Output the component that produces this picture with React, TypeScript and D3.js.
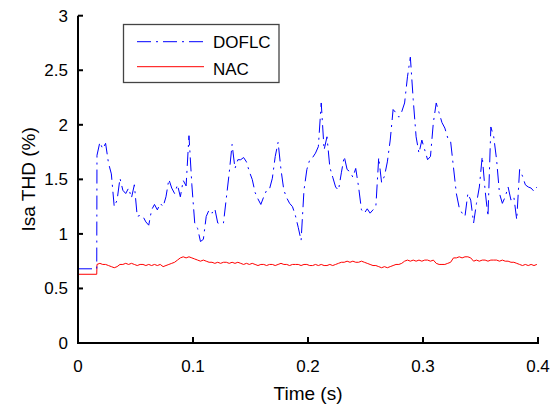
import React from "react";
import * as d3 from "d3";

const xTickValues = [0, 0.1, 0.2, 0.3, 0.4];
const xTickLabels = ["0", "0.1", "0.2", "0.3", "0.4"];
const yTickValues = [0, 0.5, 1, 1.5, 2, 2.5, 3];
const yTickLabels = ["0", "0.5", "1", "1.5", "2", "2.5", "3"];

const seriesNames = ["DOFLC", "NAC"];

// initial steady segment before the switch-over
const startTimes = [0, 0.0163];
const doflcStart = [0.68, 0.68];
const nacStart = [0.63, 0.63];

// sampled segment: starts at T0 with constant sample step
const T0 = 0.0165;
const STEP = 0.0025;

const doflcValues = [
  1.72, 1.84, 1.78, 1.83, 1.65, 1.55, 1.25, 1.31, 1.51, 1.40,
  1.37, 1.42, 1.33, 1.45, 1.16, 1.17, 1.16, 1.11, 1.08, 1.22,
  1.27, 1.22, 1.28, 1.25, 1.34, 1.50, 1.42, 1.37, 1.45, 1.34,
  1.49, 1.44, 1.90, 1.45, 1.10, 1.05, 0.93, 0.95, 1.16, 1.22,
  1.19, 1.23, 1.10, 1.09, 1.10, 1.33, 1.56, 1.82, 1.60, 1.68,
  1.68, 1.70, 1.66, 1.57, 1.50, 1.38, 1.32, 1.27, 1.34, 1.40,
  1.41, 1.51, 1.71, 1.84, 1.59, 1.40, 1.33, 1.28, 1.25, 1.17,
  1.06, 0.94, 1.40, 1.59, 1.68, 1.70, 1.74, 1.80, 2.20, 1.77,
  1.89, 1.61, 1.52, 1.43, 1.40, 1.56, 1.71, 1.59, 1.57, 1.52,
  1.60, 1.43, 1.22, 1.19, 1.23, 1.19, 1.22, 1.25, 1.70, 1.47,
  1.53, 1.66, 1.86, 2.14, 2.11, 2.07, 2.12, 2.20, 2.44, 2.62,
  2.23, 1.89, 1.74, 1.86, 1.77, 1.68, 1.71, 2.02, 2.20, 2.11,
  2.02, 1.97, 1.88, 1.85, 1.61, 1.37, 1.24, 1.19, 1.16, 1.37,
  1.31, 1.10, 1.28, 1.43, 1.71, 1.40, 1.16, 1.98, 1.89, 1.68,
  1.37, 1.28, 1.34, 1.43, 1.31, 1.34, 1.13, 1.59, 1.53, 1.45,
  1.43, 1.42, 1.39, 1.43,
];

const nacValues = [
  0.72, 0.73, 0.72, 0.72, 0.71, 0.70, 0.69, 0.70, 0.72, 0.72,
  0.73, 0.72, 0.73, 0.72, 0.71, 0.72, 0.72, 0.71, 0.72, 0.71,
  0.72, 0.71, 0.72, 0.70, 0.71, 0.72, 0.73, 0.74, 0.76, 0.78,
  0.79, 0.78, 0.79, 0.78, 0.77, 0.76, 0.75, 0.76, 0.75, 0.74,
  0.74, 0.73, 0.74, 0.73, 0.74, 0.74, 0.73, 0.74, 0.73, 0.74,
  0.73, 0.72, 0.73, 0.72, 0.73, 0.72, 0.71, 0.72, 0.72, 0.71,
  0.72, 0.72, 0.71, 0.72, 0.73, 0.72, 0.72, 0.71, 0.72, 0.72,
  0.72, 0.71, 0.72, 0.72, 0.71, 0.71, 0.72, 0.71, 0.72, 0.71,
  0.71, 0.72, 0.71, 0.72, 0.73, 0.74, 0.74, 0.75, 0.74, 0.75,
  0.74, 0.74, 0.75, 0.74, 0.73, 0.72, 0.71, 0.71, 0.70, 0.69,
  0.70, 0.69, 0.70, 0.71, 0.72, 0.72, 0.73, 0.75, 0.76, 0.75,
  0.76, 0.75, 0.76, 0.75, 0.76, 0.76, 0.75, 0.76, 0.73, 0.72,
  0.72, 0.72, 0.73, 0.74, 0.78, 0.78, 0.79, 0.78, 0.79, 0.79,
  0.78, 0.75, 0.76, 0.75, 0.76, 0.76, 0.75, 0.76, 0.76, 0.76,
  0.75, 0.76, 0.75, 0.75, 0.74, 0.74, 0.73, 0.72, 0.71, 0.72,
  0.71, 0.72, 0.71, 0.72,
];

const W = 558;
const H = 406;
const FONT = "'Liberation Sans', Arial, Helvetica, sans-serif";

export default function App() {
  const x = d3.scaleLinear().domain([0, 0.4]).range([78, 538]);
  const y = d3.scaleLinear().domain([0, 3]).range([343, 15.7]);

  const sampleTimes = doflcValues.map((_, i) => T0 + i * STEP);
  const doflcPts: [number, number][] = [
    ...startTimes.map((t, i) => [t, doflcStart[i]] as [number, number]),
    ...sampleTimes.map((t, i) => [t, doflcValues[i]] as [number, number]),
  ];
  const nacPts: [number, number][] = [
    ...startTimes.map((t, i) => [t, nacStart[i]] as [number, number]),
    ...sampleTimes.map((t, i) => [t, nacValues[i]] as [number, number]),
  ];

  const line = d3
    .line<[number, number]>()
    .x((d) => x(d[0]))
    .y((d) => y(d[1]));

  const blue = "#0000ff";
  const red = "#ff0000";
  const dash = "14,5,2,5";

  return (
    <svg
      width={W}
      height={H}
      style={{ position: "absolute", left: 0, top: 0, background: "#fff" }}
      fontFamily={FONT}
    >
      <rect x={0} y={0} width={W} height={H} fill="#fff" />

      {/* data */}
      <path d={line(nacPts) || ""} fill="none" stroke={red} strokeWidth={1} />
      <path
        d={line(doflcPts) || ""}
        fill="none"
        stroke={blue}
        strokeWidth={1}
        strokeDasharray={dash}
      />

      {/* axes */}
      <line x1={x(0)} x2={x(0)} y1={y(0) + 1} y2={y(3)} stroke="#000" strokeWidth={2} />
      <line x1={x(0) - 1} x2={x(0.4) + 1} y1={y(0)} y2={y(0)} stroke="#000" strokeWidth={2} />

      {xTickValues.map((v, i) => (
        <g key={"xt" + i}>
          <line x1={x(v)} x2={x(v)} y1={y(0)} y2={y(0) - 6} stroke="#000" strokeWidth={2} />
          <text x={x(v)} y={372} textAnchor="middle" fontSize={17} fill="#000">
            {xTickLabels[i]}
          </text>
        </g>
      ))}

      {yTickValues.map((v, i) => (
        <g key={"yt" + i}>
          <line x1={x(0)} x2={x(0) + 5} y1={y(v)} y2={y(v)} stroke="#000" strokeWidth={2} />
          <text x={68} y={y(v) + 6} textAnchor="end" fontSize={17} fill="#000">
            {yTickLabels[i]}
          </text>
        </g>
      ))}

      <text x={(x(0) + x(0.4)) / 2} y={400} textAnchor="middle" fontSize={19} fill="#000">
        Time (s)
      </text>
      <text
        transform={`translate(35, ${(y(0) + y(3)) / 2}) rotate(-90)`}
        textAnchor="middle"
        fontSize={19}
        fill="#000"
      >
        Isa THD (%)
      </text>

      {/* legend */}
      <rect x={123.5} y={24.5} width={155.5} height={58} fill="#fff" stroke="#444" strokeWidth={1.3} />
      <line x1={137} x2={204} y1={41.7} y2={41.7} stroke={blue} strokeWidth={1} strokeDasharray={dash} />
      <text x={213} y={48} fontSize={17} fill="#000">
        {seriesNames[0]}
      </text>
      <line x1={137} x2={204} y1={66.7} y2={66.7} stroke={red} strokeWidth={1} />
      <text x={213} y={75} fontSize={17} fill="#000">
        {seriesNames[1]}
      </text>
    </svg>
  );
}
